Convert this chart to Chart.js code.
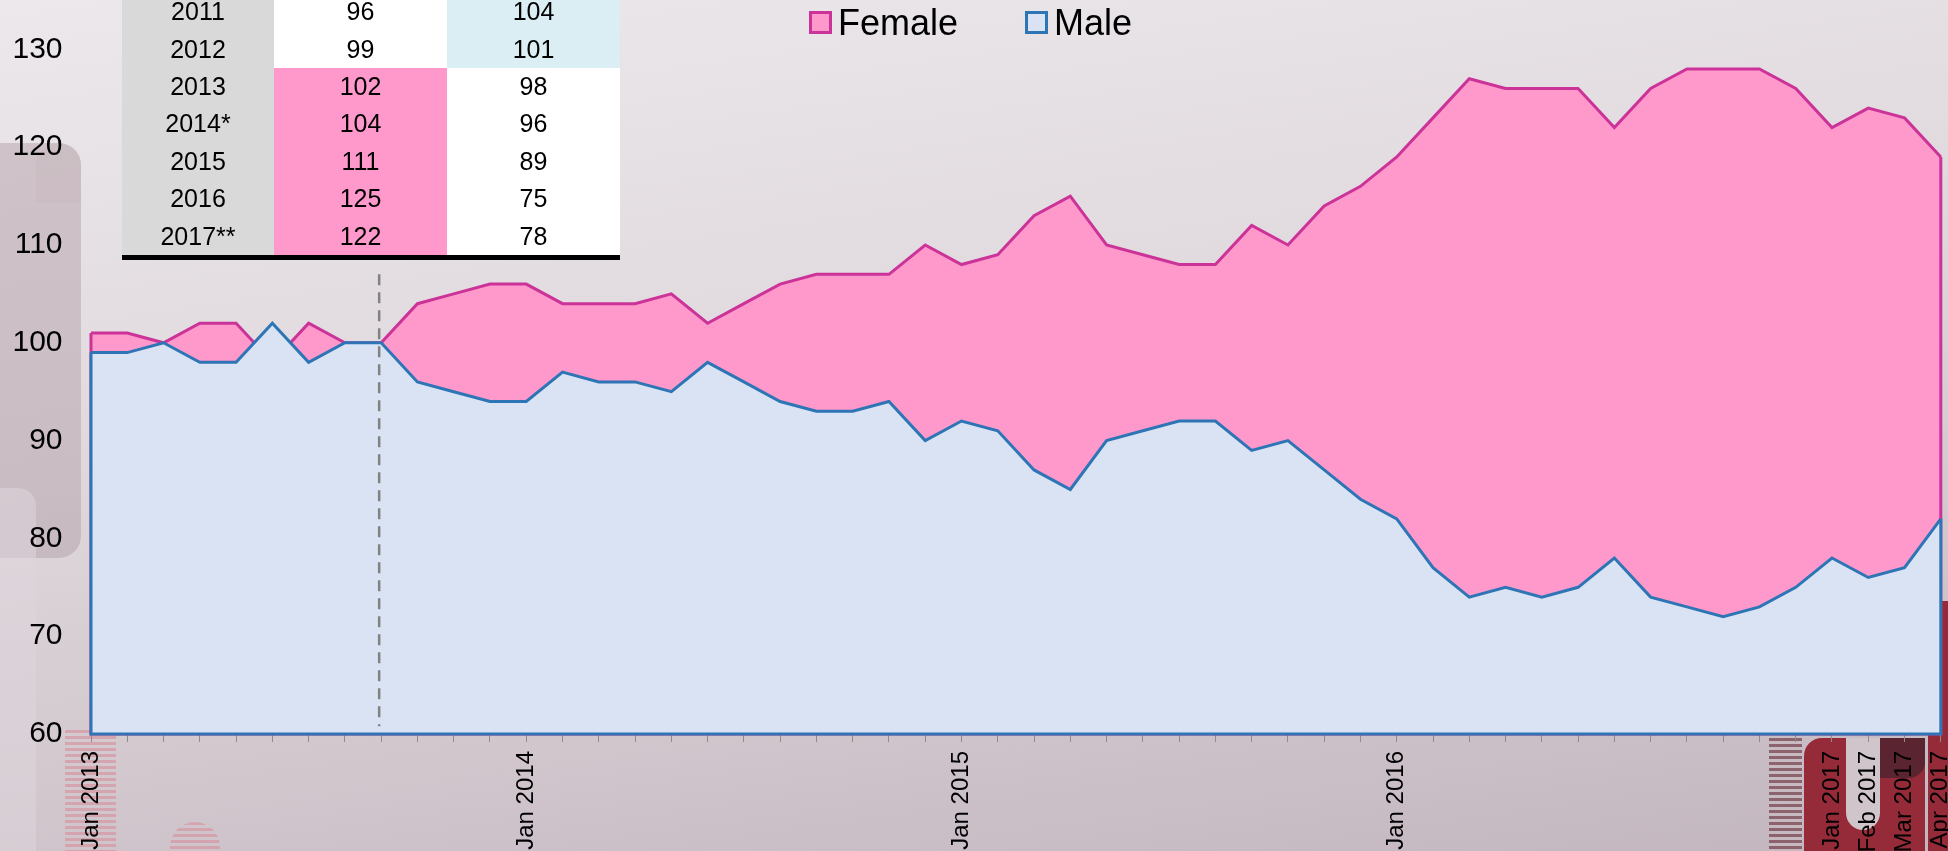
<!DOCTYPE html>
<html>
<head>
<meta charset="utf-8">
<script src="https://cdn.jsdelivr.net/npm/chart.js@4.4.1/dist/chart.umd.min.js"></script>
<style>
  html, body { margin: 0; padding: 0; }
  body {
    width: 1948px; height: 851px; overflow: hidden; position: relative;
    font-family: "Liberation Sans", Arial, sans-serif;
    background: linear-gradient(172deg, #ece8eb 0%, #e2dce0 35%, #d2c8ce 70%, #c3b6bf 100%);
  }
  .deco { position: absolute; }
  #chart { position: absolute; left: 0; top: 0; }
  #table {
    position: absolute; left: 122px; top: -7px; border-collapse: collapse;
    font-size: 25px; color: #000; z-index: 2;
    border-bottom: 5px solid #000;
  }
  #table td { padding: 0; height: 37.4px; text-align: center; vertical-align: middle; background: #fff; }
  #table td.yr { background: #d9d9d9; width: 152px; }
  #table td.v { width: 173px; }
  #table td.f { background: #ff99cc; }
  #table td.m { background: #daeef3; }
  .lg-box { position: absolute; top: 11px; width: 23px; height: 23px; box-sizing: border-box; border: 3px solid; }
  .lg-text { position: absolute; top: 4.5px; font-size: 36px; line-height: 36px; color: #000; white-space: nowrap; }
</style>
</head>
<body>
<!-- background decoration -->
<div class="deco" style="left:0;top:143px;width:81px;height:415px;border-radius:0 22px 22px 0;background:rgba(172,150,160,0.42)"></div>
<div class="deco" style="left:36px;top:143px;width:45px;height:60px;border-radius:22px 22px 0 0;background:rgba(172,150,160,0.1)"></div>
<div class="deco" style="left:0;top:488px;width:36px;height:363px;border-radius:0 18px 0 0;background:rgba(222,214,220,0.55)"></div>
<div class="deco" style="left:65px;top:730px;width:51px;height:121px;background:repeating-linear-gradient(180deg, rgba(214,150,162,0.7) 0 3px, transparent 3px 6px)"></div>
<div class="deco" style="left:170px;top:822px;width:50px;height:40px;border-radius:25px 25px 0 0;background:repeating-linear-gradient(180deg, rgba(214,150,162,0.7) 0 3px, transparent 3px 6px)"></div>
<div class="deco" style="left:1769px;top:738px;width:33px;height:113px;background:repeating-linear-gradient(180deg, rgba(120,70,80,0.75) 0 3px, rgba(200,185,192,0.6) 3px 6px)"></div>
<div class="deco" style="left:1804px;top:738px;width:80px;height:113px;border-radius:18px 0 0 0;background:#952b38"></div>
<div class="deco" style="left:1846px;top:738px;width:34px;height:92px;border-radius:0 0 17px 17px;background:#cfc5cb"></div>
<div class="deco" style="left:1880px;top:738px;width:45px;height:113px;background:#952b38"></div>
<div class="deco" style="left:1880px;top:738px;width:45px;height:40px;border-radius:0 0 16px 0;background:#5a2530"></div>
<div class="deco" style="left:1928px;top:601px;width:20px;height:250px;background:#952b38"></div>

<canvas id="chart" width="1948" height="851"></canvas>

<table id="table">
  <tr><td class="yr">2011</td><td class="v">96</td><td class="v m">104</td></tr>
  <tr><td class="yr">2012</td><td class="v">99</td><td class="v m">101</td></tr>
  <tr><td class="yr">2013</td><td class="v f">102</td><td class="v">98</td></tr>
  <tr><td class="yr">2014*</td><td class="v f">104</td><td class="v">96</td></tr>
  <tr><td class="yr">2015</td><td class="v f">111</td><td class="v">89</td></tr>
  <tr><td class="yr">2016</td><td class="v f">125</td><td class="v">75</td></tr>
  <tr><td class="yr">2017**</td><td class="v f">122</td><td class="v">78</td></tr>
</table>

<div class="lg-box" style="left:809px;border-color:#cc3399;background:#ff99cc"></div>
<div class="lg-text" style="left:838px">Female</div>
<div class="lg-box" style="left:1024.5px;border-color:#2e75b6;background:#dae3f3"></div>
<div class="lg-text" style="left:1054px">Male</div>

<script>
// monthly index, Jan 2013 .. Apr 2017
const monthNames = ['Jan', 'Feb', 'Mar', 'Apr', 'May', 'Jun', 'Jul', 'Aug', 'Sep', 'Oct', 'Nov', 'Dec'];
const years = [2013, 2014, 2015, 2016, 2017];
const lastMonth = 'Apr 2017';

const female = [101, 101, 100, 102, 102, 98, 102, 100, 100,
  104, 105, 106, 106, 104, 104, 104, 105, 102, 104, 106, 107, 107, 107, 110, 108,
  109, 113, 115, 110, 109, 108, 108, 112, 110, 114, 116, 119,
  123, 127, 126, 126, 126, 122, 126, 128, 128, 128, 126, 122, 124, 123, 119];

const male = [99, 99, 100, 98, 98, 102, 98, 100, 100,
  96, 95, 94, 94, 97, 96, 96, 95, 98, 96, 94, 93, 93, 94, 90, 92,
  91, 87, 85, 90, 91, 92, 92, 89, 90, 87, 84, 82,
  77, 74, 75, 74, 75, 78, 74, 73, 72, 73, 75, 78, 76, 77, 82];

const shownLabels = ['Jan 2013', 'Jan 2014', 'Jan 2015', 'Jan 2016', 'Jan 2017', 'Feb 2017', 'Mar 2017', 'Apr 2017'];

const yMin = 60;
const yMax = 130;
const yStep = 10;

// dashed marker
const markerMonth = 'Sep 2013';
const markerFrom = 107;
const markerTo = 60.8;

const categories = [];
for (const y of years) {
  for (const m of monthNames) {
    categories.push(m + ' ' + y);
    if (m + ' ' + y === lastMonth) break;
  }
}

const fontFamily = '"Liberation Sans", Arial, sans-serif';

// Excel-style area outline: vertical ends and the base line
const areaEdges = {
  id: 'areaEdges',
  afterDatasetDraw(chart, args) {
    const pts = args.meta.data;
    if (!pts.length) return;
    const ds = chart.data.datasets[args.index];
    const bottom = chart.scales.y.getPixelForValue(chart.scales.y.min);
    const first = pts[0];
    const last = pts[pts.length - 1];
    const ctx = chart.ctx;
    ctx.save();
    ctx.strokeStyle = ds.borderColor;
    ctx.lineWidth = ds.borderWidth;
    ctx.beginPath();
    ctx.moveTo(first.x, first.y);
    ctx.lineTo(first.x, bottom);
    ctx.lineTo(last.x, bottom);
    ctx.lineTo(last.x, last.y);
    ctx.stroke();
    ctx.restore();
  }
};

const markerLine = {
  id: 'markerLine',
  afterDatasetsDraw(chart) {
    const x = chart.scales.x.getPixelForValue(categories.indexOf(markerMonth)) - 2;
    const y1 = chart.scales.y.getPixelForValue(markerFrom);
    const y2 = chart.scales.y.getPixelForValue(markerTo);
    const ctx = chart.ctx;
    ctx.save();
    ctx.strokeStyle = '#828282';
    ctx.lineWidth = 2.5;
    ctx.setLineDash([11, 7]);
    ctx.beginPath();
    ctx.moveTo(x, y1);
    ctx.lineTo(x, y2);
    ctx.stroke();
    ctx.restore();
  }
};

new Chart(document.getElementById('chart'), {
  type: 'line',
  data: {
    labels: categories,
    datasets: [{
      label: 'Female',
      data: female,
      order: 1,
      fill: 'start',
      backgroundColor: '#ff99cc',
      borderColor: '#cc3399',
      borderWidth: 3,
      pointRadius: 0,
      tension: 0
    }, {
      label: 'Male',
      data: male,
      order: 0,
      fill: 'start',
      backgroundColor: '#dae3f3',
      borderColor: '#2e75b6',
      borderWidth: 3,
      pointRadius: 0,
      tension: 0
    }]
  },
  options: {
    responsive: false,
    animation: false,
    devicePixelRatio: 1,
    layout: { padding: { top: 49.4, right: 7.2, bottom: 0, left: 0 } },
    plugins: {
      legend: { display: false },
      tooltip: { enabled: false }
    },
    scales: {
      x: {
        offset: false,
        grid: { display: true, drawOnChartArea: false, drawTicks: true, tickLength: 8, color: '#8c8c8c' },
        border: { display: true, color: '#8c8c8c' },
        ticks: {
          autoSkip: false,
          minRotation: 90,
          maxRotation: 90,
          padding: 9,
          color: '#000',
          font: { family: fontFamily, size: 24 },
          callback(value) {
            const label = categories[value];
            return shownLabels.includes(label) ? label : '';
          }
        },
        afterFit(scale) {
          scale.height = 117;
          scale.paddingLeft = 0;
          scale.paddingRight = 0;
        }
      },
      y: {
        min: yMin,
        max: yMax,
        grid: { display: false, drawTicks: false },
        border: { display: false },
        ticks: {
          stepSize: yStep,
          padding: 28.5,
          color: '#000',
          font: { family: fontFamily, size: 30 }
        },
        afterFit(scale) {
          scale.width = 91;
          scale.paddingTop = 0;
          scale.paddingBottom = 0;
        }
      }
    }
  },
  plugins: [areaEdges, markerLine]
});
</script>
</body>
</html>
